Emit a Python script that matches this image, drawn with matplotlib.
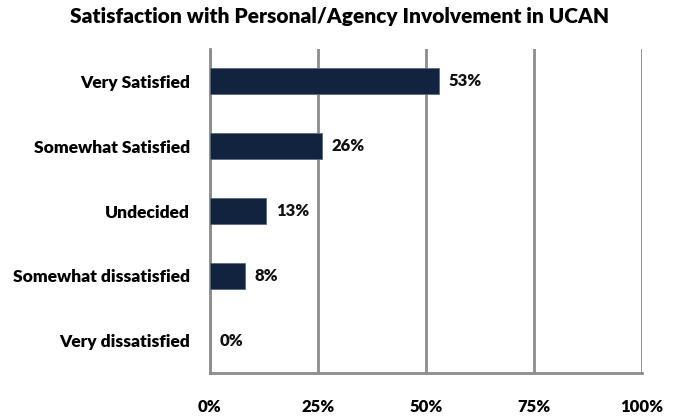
import matplotlib
matplotlib.use("Agg")
import matplotlib.pyplot as plt
import numpy as np

plt.rcParams['font.family'] = ['Lato', 'DejaVu Sans']

categories = ["Very Satisfied", "Somewhat Satisfied", "Undecided",
              "Somewhat dissatisfied", "Very dissatisfied"]
values = [53, 26, 13, 8, 0]
xticks = [0, 25, 50, 75, 100]
xtick_labels = ["0%", "25%", "50%", "75%", "100%"]

bar_color = "#12233f"
grid_color = "#8c8c8c"
weight = "heavy"

fig = plt.figure(figsize=(6.79, 4.19), dpi=100)
# axes in pixel coords: left 210, right 642, top 49, bottom 373
ax = fig.add_axes([210 / 679, 1 - 373 / 419, 432 / 679, 324 / 419])

y = np.arange(len(categories))
bars = ax.barh(y, values, height=0.4, color=bar_color, edgecolor="#5a6a80",
               linewidth=0.6, zorder=3)
for b, v in zip(bars, values):
    if v == 0:
        b.set_linewidth(0)

for yi, v in zip(y, values):
    ax.text(v + 2.2, yi, f"{v}%", va="center", ha="left",
            fontsize=12, fontweight=weight, color="#111111")

ax.set_ylim(len(categories) - 0.5, -0.5)
ax.set_xlim(0, 100)
ax.set_yticks(y)
ax.set_yticklabels(categories, fontsize=12.5, fontweight=weight)
ax.set_xticks(xticks)
ax.set_xticklabels(xtick_labels, fontsize=12, fontweight=weight)
ax.tick_params(axis="both", length=0)
ax.tick_params(axis="y", pad=14.5)
ax.tick_params(axis="x", pad=19)

ax.grid(axis="x", color=grid_color, linewidth=2, zorder=0)
for s in ["top", "right"]:
    ax.spines[s].set_visible(False)
for s in ["left", "bottom"]:
    ax.spines[s].set_color(grid_color)
    ax.spines[s].set_linewidth(2)

fig.text(0.5, 1 - 17 / 419, "Satisfaction with Personal/Agency Involvement in UCAN",
         ha="center", va="center", fontsize=15, fontweight=weight)

fig.savefig("out.png", dpi=100)
